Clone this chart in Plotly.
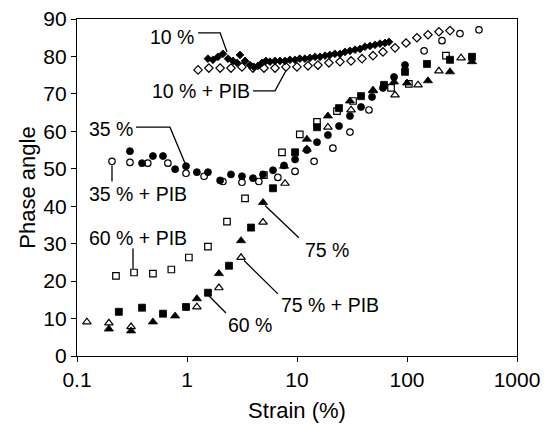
import numpy as np
import plotly.graph_objects as go

# ---------------- data (strain %, phase angle) ----------------
s10 = [1.55, 1.72, 1.91, 2.12, 2.36, 2.62, 2.85, 3.03, 3.37, 3.74, 4.06, 4.42, 4.81, 5.22,
       5.68, 6.31, 7.0, 7.78, 8.63, 9.59, 10.6, 11.8, 13.1, 14.6, 16.2, 18.0, 19.9, 22.1,
       24.6, 27.3, 30.3, 33.7, 37.4, 41.5, 46.1, 51.2, 56.8, 63.1, 68.6]
p10 = [79.4, 79.1, 79.9, 80.7, 79.4, 78.8, 78.3, 80.4, 78.8, 77.7, 77.2, 77.5, 78.3, 78.8,
       78.6, 78.8, 78.8, 78.8, 79.1, 79.1, 79.4, 79.4, 79.6, 79.9, 79.9, 80.2, 80.4, 80.7,
       80.7, 81.2, 81.5, 81.8, 82.0, 82.6, 82.8, 83.1, 83.4, 83.6, 83.9]

s10p = [1.26, 1.58, 2.0, 2.51, 3.16, 3.98, 5.01, 6.31, 7.94, 10, 12.6, 15.5, 19.5, 24.6,
        31, 39, 49.1, 60.5, 77.8, 98, 123, 155, 195, 246]
p10p = [76.4, 76.9, 76.9, 76.9, 77.2, 76.9, 76.9, 76.9, 77.2, 77.2, 77.5, 77.7, 78.3, 78.6,
        78.8, 79.4, 80.2, 81.2, 82.3, 83.6, 85.0, 85.8, 86.6, 86.9]

s35 = [0.303, 0.39, 0.49, 0.605, 0.78, 0.98, 1.23, 1.55, 2.0, 2.51, 3.16, 3.98, 4.91, 6.05,
       7.62, 9.6, 12.3, 15.2, 19.1, 24.1, 30.3, 38.2, 48.1, 60.5, 76.2, 95.9]
p35 = [54.7, 51.5, 53.4, 53.4, 49.9, 50.7, 49.1, 49.1, 46.9, 48.5, 48.0, 47.5, 48.5, 49.6,
       50.9, 52.5, 55.0, 57.1, 59.0, 61.4, 64.1, 66.5, 69.2, 71.6, 74.5, 77.7]

s35p = [0.208, 0.303, 0.44, 0.67, 0.98, 1.43, 2.12, 3.16, 4.5, 6.7, 9.6, 14.3, 21.2, 30.3,
        45.1, 143, 208, 303, 451]
p35p = [52.0, 51.7, 51.5, 51.5, 48.8, 48.0, 46.6, 46.4, 46.6, 47.7, 49.3, 52.0, 55.5, 59.8,
        65.7, 81.5, 84.2, 86.1, 87.1]

s60 = [0.24, 0.39, 0.605, 0.98, 1.55, 2.41, 3.82, 6.05, 9.6, 15.2, 24.1, 38.2, 61.8, 95.9,
       152, 246, 390]
p60 = [11.8, 12.9, 11.3, 13.1, 16.9, 24.1, 34.3, 44.8, 54.4, 61.1, 66.2, 69.4, 72.4, 75.9,
       78.0, 79.1, 79.9]

s60p = [0.226, 0.33, 0.49, 0.72, 1.04, 1.55, 2.31, 3.37, 5.0, 7.3, 10.6, 15.2, 23.1, 32.3,
        71.6, 104, 226]
p60p = [21.4, 22.3, 22.0, 23.1, 26.3, 29.2, 35.9, 42.1, 48.3, 54.4, 59.2, 62.5, 65.4, 68.1,
        71.6, 72.7, 80.2]

s75 = [0.195, 0.31, 0.49, 0.78, 1.23, 1.95, 3.10, 4.91, 7.62, 12.3, 19.1, 30.3, 49.1, 76.2,
       100, 155, 246, 390]
p75 = [7.2, 6.7, 9.1, 10.7, 15.3, 22.0, 30.8, 41.0, 50.7, 57.9, 64.1, 68.1, 71.0, 73.2,
       72.9, 73.5, 75.9, 78.6]

s75p = [0.123, 0.195, 0.31, 1.23, 1.95, 3.10, 4.91, 7.78, 12.3, 19.1, 31, 49.1, 77.8, 126,
        195, 310]
p75p = [9.1, 8.8, 7.8, 13.1, 18.2, 26.3, 35.7, 46.1, 55.2, 61.1, 65.7, 70.8, 69.7, 72.4,
        76.1, 79.6]

# labels: text, strain, phase
labels = ["10 %", "10 % + PIB", "35 %", "35 % + PIB", "60 % + PIB", "75 %", "75 % + PIB", "60 %"]
label_strain = [0.73, 1.34, 0.204, 0.359, 0.359, 18.8, 20.0, 3.74]
label_phase = [85.3, 70.8, 60.6, 43.2, 31.4, 28.4, 13.7, 8.3]

# leader lines (strain list, phase list)
leaders = [
    ([1.26, 2.0, 2.31], [86.3, 86.3, 81.2]),
    ([3.98, 6.31, 8.11], [70.8, 70.8, 76.7]),
    ([0.344, 0.70, 0.96], [61.1, 61.1, 51.5]),
    ([0.208, 0.208], [50.9, 46.6]),
    ([0.323, 0.323], [28.7, 23.3]),
    ([5.12, 10.4], [40.2, 31.6]),
    ([3.3, 6.7], [25.5, 16.6]),
    ([1.58, 2.26], [16.1, 11.5]),
]

fig = go.Figure()

for xs, ys in leaders:
    fig.add_trace(go.Scatter(x=xs, y=ys, mode="lines", line=dict(color="black", width=1.3),
                             hoverinfo="skip", showlegend=False))

def add(xs, ys, symbol, filled, size, lw=1.2):
    fig.add_trace(go.Scatter(
        x=xs, y=ys, mode="markers", showlegend=False,
        marker=dict(symbol=symbol, size=size,
                    color="black" if filled else "white",
                    line=dict(color="black", width=lw))))

# open markers first, filled on top
add(s10p, p10p, "diamond", False, 6.5)
add(s35p, p35p, "circle", False, 6.5)
add(s60p, p60p, "square", False, 6.5)
add(s75p, p75p, "triangle-up", False, 7.5)
add(s10, p10, "diamond", True, 6, 0.8)
add(s35, p35, "circle", True, 7, 0.8)
add(s60, p60, "square", True, 7, 0.8)
add(s75, p75, "triangle-up", True, 8, 0.8)

annots = []
for t, xv, yv in zip(labels, label_strain, label_phase):
    annots.append(dict(text=t, x=np.log10(xv), y=yv, xref="x", yref="y", showarrow=False,
                       font=dict(size=19.5, color="black", family="Liberation Sans, Arial")))

fig.update_layout(
    width=544, height=433,
    margin=dict(l=77, r=27, t=19, b=77),
    paper_bgcolor="white", plot_bgcolor="white",
    font=dict(family="Liberation Sans, Arial", color="black"),
    annotations=annots,
    xaxis=dict(type="log", range=[-1, 3], tickvals=[0.1, 1, 10, 100, 1000],
               ticktext=["0.1", "1", "10", "100", "1000"], automargin=False,
               showline=True, linecolor="black", linewidth=1.3, mirror=True,
               ticks="outside", ticklen=5, tickcolor="black", tickwidth=1.3,
               showgrid=False, zeroline=False, tickfont=dict(size=21),
               title=dict(text="Strain (%)", font=dict(size=22), standoff=12)),
    yaxis=dict(range=[0, 90], tickvals=list(range(0, 91, 10)), automargin=False,
               showline=True, linecolor="black", linewidth=1.3, mirror=True,
               ticks="outside", ticklen=5, tickcolor="black", tickwidth=1.3,
               showgrid=False, zeroline=False, tickfont=dict(size=21),
               title=dict(text="Phase angle", font=dict(size=22), standoff=1)),
)

fig.write_html("out.html", config={"displayModeBar": False},
               post_script="document.body.style.margin='0px';")
